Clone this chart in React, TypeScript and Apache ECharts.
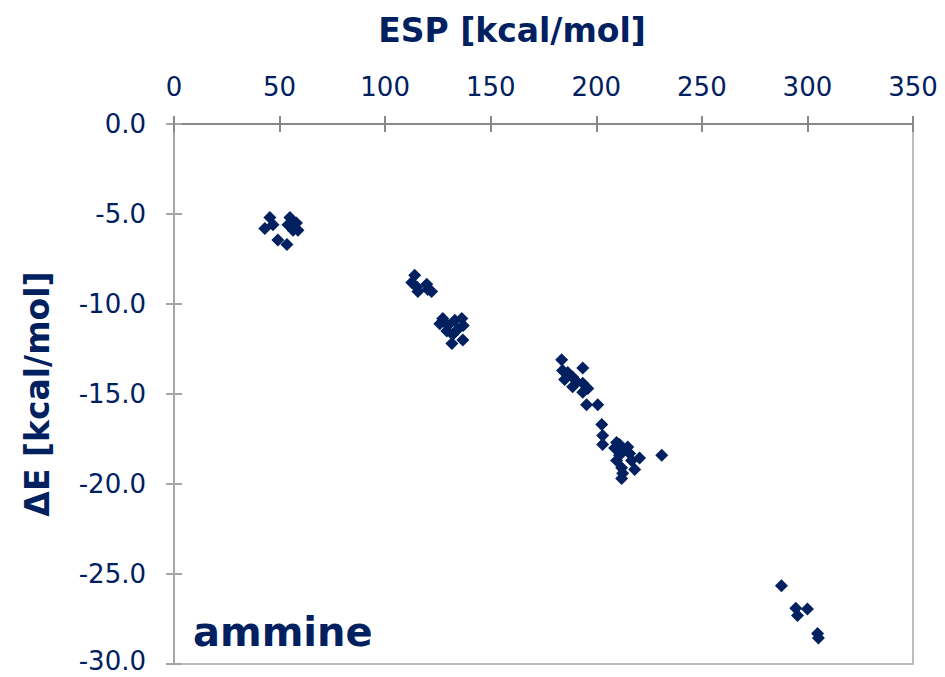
import React, { useEffect, useRef } from "react";
import * as echarts from "echarts";

const espValues: number[] = [
  45.4, 43, 46.9, 54.9, 58, 56.4, 58.7, 54, 49.2, 53.5,
  114, 112.6, 115, 115.5, 119.7, 122, 120.2,
  127.3, 125.9, 129.7, 133, 136.3, 137, 134.4, 132, 131.6, 136.8, 129.2,
  183.6, 193.6, 184, 186.5, 185, 188.8, 190.7, 188.8, 193.6, 196, 193.6, 195.4, 200.7,
  202.6, 203, 203, 209.6, 211, 208.7, 212, 214.9, 209.6, 215.8, 216.7, 220.5, 212, 218.2, 212.5, 212, 231, 211,
  287.7, 294.5, 295.3, 300, 304.8, 305.2,
];
const deltaE: number[] = [
  -5.2, -5.8, -5.6, -5.2, -5.5, -5.9, -5.9, -5.6, -6.45, -6.7,
  -8.4, -8.8, -9.05, -9.3, -8.9, -9.3, -9.2,
  -10.8, -11.1, -11.2, -10.9, -10.8, -11.2, -11.4, -11.7, -12.2, -12.0, -11.5,
  -13.1, -13.55, -13.7, -13.8, -14.2, -14.05, -14.3, -14.6, -14.4, -14.7, -14.9, -15.6, -15.6,
  -16.7, -17.3, -17.8, -17.7, -17.8, -18.0, -18.2, -17.95, -18.7, -18.3, -18.7, -18.55, -19.1, -19.2, -19.4, -19.7, -18.4, -18.4,
  -25.65, -26.9, -27.3, -26.95, -28.3, -28.55,
];
const xTitle = "ESP [kcal/mol]";
const yTitle = "ΔE [kcal/mol]";
const panelLabel = "ammine";

const NAVY = "#002060";
const AXIS = "#a6a6a6";
const FONT = "DejaVu Sans";

export default function App() {
  const ref = useRef<HTMLDivElement>(null);
  useEffect(() => {
    if (!ref.current) return;
    const chart = echarts.init(ref.current, null, { renderer: "svg" });
    const data = espValues.map((x, i) => [x, deltaE[i]]);
    chart.setOption({
      animation: false,
      backgroundColor: "#ffffff",
      grid: {
        left: 174,
        right: 32,
        top: 124,
        bottom: 13,
        outerBoundsMode: "none",
        show: true,
        borderColor: AXIS,
        borderWidth: 1.5,
      },
      xAxis: [
        {
          type: "value",
          position: "top",
          min: 0,
          max: 350,
          interval: 50,
          axisLine: { show: true, onZero: false, lineStyle: { color: "#888888", width: 2 } },
          axisTick: { show: true, length: 8, lineStyle: { color: "#888888", width: 2 } },
          axisLabel: { color: NAVY, fontSize: 26, fontFamily: FONT, margin: 24 },
          splitLine: { show: false },
        },
        {
          type: "value",
          position: "top",
          min: 0,
          max: 350,
          interval: 50,
          axisLine: { show: false },
          axisTick: { show: true, inside: true, length: 8, lineStyle: { color: "#888888", width: 2 } },
          axisLabel: { show: false },
          splitLine: { show: false },
        },
      ],
      yAxis: [
        {
          type: "value",
          min: -30,
          max: 0,
          interval: 5,
          name: yTitle,
          nameLocation: "middle",
          nameGap: 120,
          nameRotate: 90,
          nameTextStyle: { color: NAVY, fontSize: 33, fontWeight: "bold", fontFamily: FONT },
          axisLine: { show: true, onZero: false, lineStyle: { color: AXIS, width: 2 } },
          axisTick: { show: true, length: 8, lineStyle: { color: AXIS, width: 2 } },
          axisLabel: {
            color: NAVY,
            fontSize: 26,
            fontFamily: FONT,
            margin: 28,
            formatter: (v: number) =>
              v <= -30 ? `{low|${v.toFixed(1)}}` : v.toFixed(1),
            rich: {
              low: {
                color: NAVY,
                fontSize: 26,
                fontFamily: FONT,
                lineHeight: 26,
                padding: [0, 0, 6, 0],
              },
            },
          },
          splitLine: { show: false },
        },
        {
          type: "value",
          position: "left",
          min: -30,
          max: 0,
          interval: 5,
          axisLine: { show: false },
          axisTick: { show: true, inside: true, length: 8, lineStyle: { color: AXIS, width: 2 } },
          axisLabel: { show: false },
          splitLine: { show: false },
        },
      ],
      graphic: [
        {
          type: "text",
          x: 512,
          y: 30,
          style: {
            text: xTitle,
            fill: NAVY,
            font: `bold 33px "${FONT}"`,
            align: "center",
            verticalAlign: "middle",
          },
        },
        {
          type: "text",
          x: 193,
          y: 632,
          style: {
            text: panelLabel,
            fill: NAVY,
            font: `bold 40px "${FONT}"`,
            align: "left",
            verticalAlign: "middle",
          },
        },
      ],
      series: [
        {
          type: "scatter",
          data,
          symbol: "diamond",
          symbolSize: 13,
          itemStyle: { color: NAVY, opacity: 1 },
        },
      ],
    });
    return () => chart.dispose();
  }, []);
  return (
    <div
      ref={ref}
      style={{ width: 945, height: 677, position: "absolute", left: 0, top: 0 }}
    />
  );
}
